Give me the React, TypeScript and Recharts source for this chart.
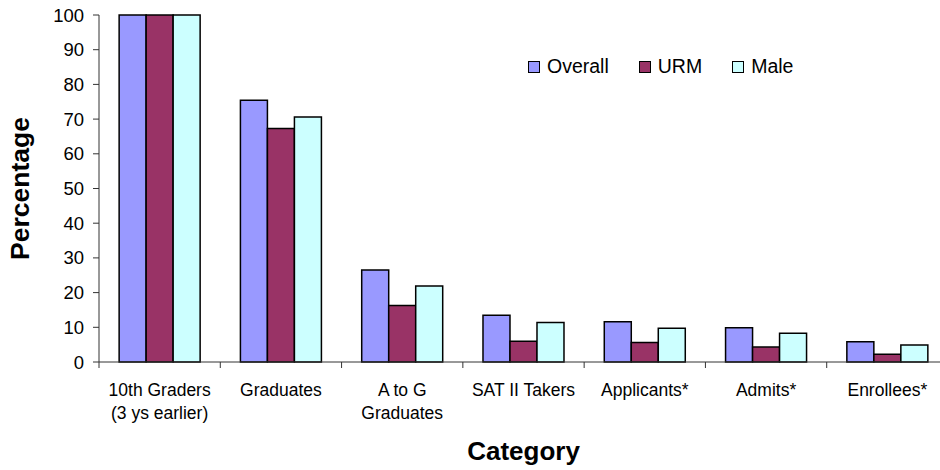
import { Bar, BarChart, Label, Legend, XAxis, YAxis } from "recharts";

const categories = [
  "10th Graders\n(3 ys earlier)",
  "Graduates",
  "A to G\nGraduates",
  "SAT II Takers",
  "Applicants*",
  "Admits*",
  "Enrollees*",
];
const overall = [100, 75.4, 26.5, 13.5, 11.6, 9.9, 5.8];
const urm = [100, 67.3, 16.3, 6.0, 5.6, 4.3, 2.2];
const male = [100, 70.6, 21.9, 11.4, 9.7, 8.3, 4.9];
const yTicks = [0, 10, 20, 30, 40, 50, 60, 70, 80, 90, 100];

const series = [
  { key: "overall", name: "Overall", color: "#9999FF" },
  { key: "urm", name: "URM", color: "#993366" },
  { key: "male", name: "Male", color: "#CCFFFF" },
];

const data = categories.map((category, i) => ({
  category,
  overall: overall[i],
  urm: urm[i],
  male: male[i],
}));

const font = "'Liberation Sans', Arial, sans-serif";

function CategoryTick(props: any) {
  const { x, y, payload } = props;
  const lines = String(payload.value).split("\n");
  const edge = x - (payload.offset ?? 0);
  return (
    <g>
      <line x1={edge} y1={y} x2={edge} y2={y + 6} stroke="#333" strokeWidth={1} />
      <text x={x} y={y + 33.5} textAnchor="middle" fontSize={17.5} fill="#000" fontFamily={font}>
        {lines.map((line, i) => (
          <tspan key={i} x={x} dy={i === 0 ? 0 : 23.3}>
            {line}
          </tspan>
        ))}
      </text>
    </g>
  );
}

function LegendBox() {
  return (
    <div style={{ display: "flex", fontFamily: font, fontSize: 19.5, color: "#000" }}>
      {series.map((s) => (
        <div key={s.key} style={{ display: "flex", alignItems: "center", marginRight: 30 }}>
          <span
            style={{
              width: 10,
              height: 10,
              background: s.color,
              border: "1.5px solid #000",
              marginRight: 7,
              display: "inline-block",
            }}
          />
          <span>{s.name}</span>
        </div>
      ))}
    </div>
  );
}

export default function App() {
  return (
    <div style={{ position: "absolute", left: 0, top: 0, width: 940, height: 470, overflow: "hidden", background: "#fff" }}>
      <BarChart
        width={950}
        height={470}
        data={data}
        margin={{ top: 15, right: 2, left: 0, bottom: 48 }}
        barCategoryGap="16.6%"
        barGap={0}
      >
        <XAxis
          dataKey="category"
          interval={0}
          height={60}
          stroke="#333"
          tickLine={false}
          tickSize={0}
          tickMargin={0}
          tick={<CategoryTick />}
        >
          <Label
            value="Category"
            position="bottom"
            offset={20}
            style={{ fontFamily: font, fontSize: 26, fontWeight: "bold", fill: "#000" }}
          />
        </XAxis>
        <YAxis
          width={99}
          domain={[0, 100]}
          ticks={yTicks}
          interval={0}
          stroke="#333"
          tickSize={6}
          tickMargin={9}
          tick={{ fontFamily: font, fontSize: 18.5, fill: "#000" }}
        >
          <Label
            value="Percentage"
            angle={-90}
            position="insideLeft"
            offset={20}
            style={{ fontFamily: font, fontSize: 26.5, fontWeight: "bold", fill: "#000", textAnchor: "middle" }}
          />
        </YAxis>
        <Legend
          layout="horizontal"
          verticalAlign="middle"
          align="center"
          content={<LegendBox />}
          wrapperStyle={{ position: "absolute", top: 55, left: 528, width: 320, height: 24 }}
        />
        {series.map((s) => (
          <Bar
            key={s.key}
            dataKey={s.key}
            name={s.name}
            fill={s.color}
            stroke="#000"
            strokeWidth={1.5}
            isAnimationActive={false}
          />
        ))}
      </BarChart>
    </div>
  );
}
